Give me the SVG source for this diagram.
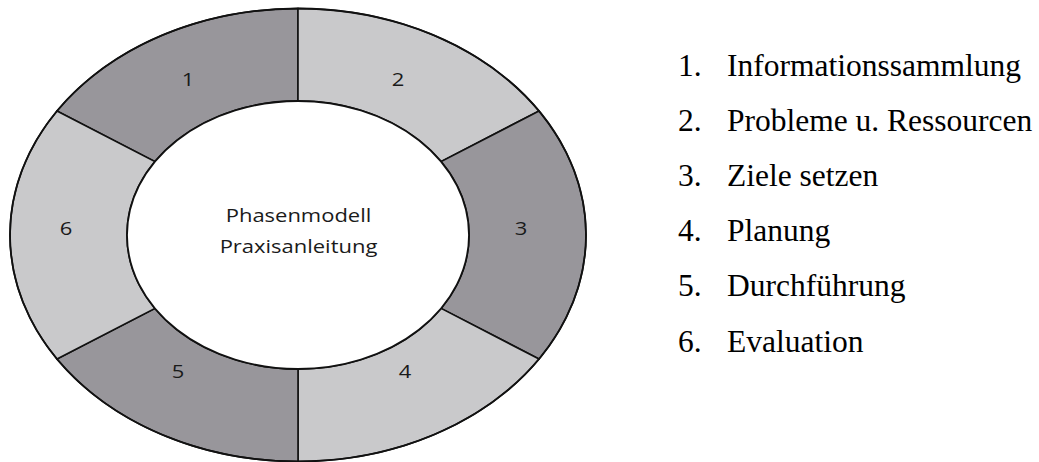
<svg xmlns="http://www.w3.org/2000/svg" width="1039" height="462" viewBox="0 0 1039 462">
<style>
.dark{fill:#98969b;stroke:#111;stroke-width:1.6}
.light{fill:#c9c9cb;stroke:#111;stroke-width:1.6}
.num{font-family:"Open Sans","DejaVu Sans",sans-serif;font-size:17.3px;fill:#1a1a1a;text-anchor:middle}
.list{font-family:"Liberation Serif","Times New Roman",serif;font-size:31.5px;fill:#000}
</style>
<rect width="1039" height="462" fill="#fff"/>
<g id="connectors"></g>
<g id="seg1"><path class="dark" d="M298,8.5 A288,226.5 0 0 0 57,111 L154.9,161.6 A171,134 0 0 1 298,101 Z"/><text class="num" transform="translate(188,86) scale(1.27,1)">1</text></g>
<g id="seg2"><path class="light" d="M298,8.5 A288,226.5 0 0 1 539,111 L441.1,161.6 A171,134 0 0 0 298,101 Z"/><text class="num" transform="translate(398,86) scale(1.27,1)">2</text></g>
<g id="seg3"><path class="dark" d="M539,111 A288,226.5 0 0 1 539,359 L441.1,308.4 A171,134 0 0 0 441.1,161.6 Z"/><text class="num" transform="translate(521,235) scale(1.27,1)">3</text></g>
<g id="seg4"><path class="light" d="M539,359 A288,226.5 0 0 1 298,461.5 L298,369 A171,134 0 0 0 441.1,308.4 Z"/><text class="num" transform="translate(405,378) scale(1.27,1)">4</text></g>
<g id="seg5"><path class="dark" d="M298,461.5 A288,226.5 0 0 1 57,359 L154.9,308.4 A171,134 0 0 0 298,369 Z"/><text class="num" transform="translate(178,378) scale(1.27,1)">5</text></g>
<g id="seg6"><path class="light" d="M57,359 A288,226.5 0 0 1 57,111 L154.9,161.6 A171,134 0 0 0 154.9,308.4 Z"/><text class="num" transform="translate(66,235) scale(1.27,1)">6</text></g>
<g id="center"><ellipse cx="298" cy="235" rx="171" ry="134" fill="#fff" stroke="#111" stroke-width="1.8"/>
<text class="num" transform="translate(298.5,221.7) scale(1.27,1)">Phasenmodell</text>
<text class="num" transform="translate(298.5,252.7) scale(1.27,1)">Praxisanleitung</text></g>
<ellipse cx="298" cy="235" rx="288" ry="226.5" fill="none" stroke="#111" stroke-width="1.8"/>
<g id="legend">
<text class="list" x="678" y="76">1.</text><text class="list" x="727" y="76">Informationssammlung</text>
<text class="list" x="678" y="131">2.</text><text class="list" x="727" y="131">Probleme u. Ressourcen</text>
<text class="list" x="678" y="186">3.</text><text class="list" x="727" y="186">Ziele setzen</text>
<text class="list" x="678" y="241">4.</text><text class="list" x="727" y="241">Planung</text>
<text class="list" x="678" y="296">5.</text><text class="list" x="727" y="296">Durchführung</text>
<text class="list" x="678" y="351.5">6.</text><text class="list" x="727" y="351.5">Evaluation</text>
</g>
</svg>
